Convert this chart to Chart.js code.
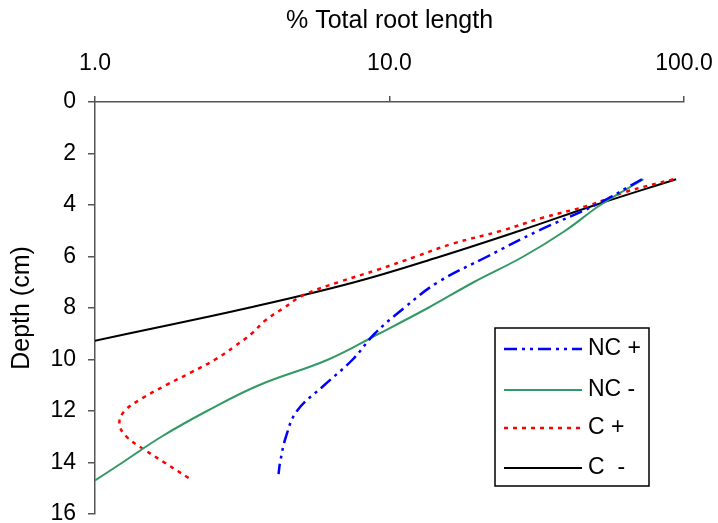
<!DOCTYPE html>
<html>
<head>
<meta charset="utf-8">
<script src="https://cdn.jsdelivr.net/npm/chart.js@4.4.1/dist/chart.umd.min.js"></script>
<style>
  body { margin: 0; background: #fff; }
  #wrap { width: 718px; height: 523px; position: relative; }
</style>
</head>
<body>
<div id="wrap"><canvas id="rootChart"></canvas></div>
<script>
// Series labels
const seriesLabels = ["NC +", "NC -", "C +", "C  -"];

// Depth (cm) and % total root length for each series
const depthNCplus = [3, 4, 5, 6, 7, 8, 9, 10, 11, 12, 13, 14, 14.45];
const rootNCplus = [72, 50, 32, 21.5, 14.6, 11.2, 8.9, 7.5, 6.0, 4.85, 4.45, 4.25, 4.2];

const depthNCminus = [3, 4, 5, 6, 7, 8, 9, 10, 11, 12, 13, 14, 14.7];
const rootNCminus = [72.8, 52, 39.5, 28.5, 19.3, 13.5, 9.2, 6.2, 3.6, 2.4, 1.68, 1.24, 1.0];

const depthCplus = [3, 3.5, 4, 4.5, 5, 5.5, 6, 6.5, 7, 7.5, 8, 8.5, 9, 9.5, 10, 10.5, 11, 11.5, 12, 12.5, 13, 13.5, 14, 14.6];
const rootCplus = [92, 63, 48, 33, 24, 16.4, 12.3, 9.2, 6.7, 5.1, 4.37, 3.77, 3.4, 2.97, 2.56, 2.12, 1.74, 1.45, 1.26, 1.21, 1.28, 1.47, 1.72, 2.08];

const depthCminus = [3, 4, 5, 6, 7, 8, 9, 10];
const rootCminus = [94, 50, 27.7, 14.9, 7.6, 3.3, 1.29, 0.5];

// Axis ticks
const xTicks = [1, 10, 100];
const yTicks = [0, 2, 4, 6, 8, 10, 12, 14, 16];

// Pair depth and value arrays into scatter points
function toPoints(depths, values) {
  return depths.map((d, i) => ({ x: values[i], y: d }));
}

Chart.defaults.font.family = "'Liberation Sans', Arial, sans-serif";
Chart.defaults.font.size = 23;
Chart.defaults.color = "#000";

// Legend drawn as a framed box inside the plot, like the original
const boxLegend = {
  id: "boxLegend",
  afterDatasetsDraw(chart) {
    const ctx = chart.ctx;
    const left = 495, top = 328, width = 154, height = 158;
    const rows = [349, 390, 428, 468];
    ctx.save();
    ctx.fillStyle = "#fff";
    ctx.fillRect(left, top, width, height);
    ctx.strokeStyle = "#000";
    ctx.lineWidth = 1.5;
    ctx.strokeRect(left, top, width, height);
    chart.data.datasets.forEach((ds, i) => {
      const y = rows[i];
      ctx.beginPath();
      ctx.setLineDash(ds.borderDash || []);
      ctx.strokeStyle = ds.borderColor;
      ctx.lineWidth = ds.borderWidth;
      ctx.moveTo(504, y);
      ctx.lineTo(582, y);
      ctx.stroke();
      ctx.setLineDash([]);
      ctx.fillStyle = "#000";
      ctx.font = "23px 'Liberation Sans', Arial, sans-serif";
      ctx.textAlign = "left";
      ctx.textBaseline = "middle";
      ctx.fillText(ds.label, 588, y);
    });
    ctx.restore();
  },
};

const ctx = document.getElementById("rootChart").getContext("2d");

const rootChart = new Chart(ctx, {
  type: "scatter",
  data: {
    datasets: [
      {
        label: seriesLabels[0],
        data: toPoints(depthNCplus, rootNCplus),
        borderColor: "#0000ff",
        borderWidth: 2.5,
        borderDash: [13, 5, 3, 5, 3, 5],
      },
      {
        label: seriesLabels[1],
        data: toPoints(depthNCminus, rootNCminus),
        borderColor: "#339966",
        borderWidth: 2,
      },
      {
        label: seriesLabels[2],
        data: toPoints(depthCplus, rootCplus),
        borderColor: "#ff0000",
        borderWidth: 2.5,
        borderDash: [4, 5],
      },
      {
        label: seriesLabels[3],
        data: toPoints(depthCminus, rootCminus),
        borderColor: "#000",
        borderWidth: 2,
      },
    ].map((ds) => ({ ...ds, showLine: true, pointRadius: 0, tension: 0.4, fill: false })),
  },
  options: {
    responsive: true,
    maintainAspectRatio: false,
    animation: false,
    layout: {
      padding: { left: 0, top: 0, right: 34, bottom: 9 },
    },
    plugins: {
      legend: { display: false },
      tooltip: { enabled: false },
    },
    scales: {
      x: {
        type: "logarithmic",
        position: "top",
        min: 1,
        max: 100,
        afterBuildTicks: (scale) => {
          scale.ticks = xTicks.map((v) => ({ value: v }));
        },
        afterFit: (scale) => {
          // fixed band height, no extra side padding for the end labels
          scale.height = 102;
          scale.paddingLeft = 0;
          scale.paddingRight = 0;
        },
        ticks: {
          padding: 19,
          maxRotation: 0,
          autoSkip: false,
          callback: (value) => Number(value).toFixed(1),
        },
        grid: {
          drawOnChartArea: false,
          drawTicks: true,
          tickLength: 6,
          color: "#555",
          lineWidth: 1.5,
        },
        border: { display: true, color: "#555", width: 1.5 },
        title: {
          display: true,
          text: "% Total root length",
          font: { size: 25 },
          padding: { top: 6, bottom: 0 },
        },
      },
      y: {
        type: "linear",
        reverse: true,
        min: 0,
        max: 16,
        afterBuildTicks: (scale) => {
          scale.ticks = yTicks.map((v) => ({ value: v }));
        },
        afterFit: (scale) => {
          scale.width = 95;
          scale.paddingTop = 0;
          scale.paddingBottom = 0;
        },
        ticks: {
          padding: 12,
        },
        grid: {
          drawOnChartArea: false,
          drawTicks: true,
          tickLength: 7,
          color: "#555",
          lineWidth: 1.5,
        },
        border: { display: true, color: "#555", width: 1.5 },
        title: {
          display: true,
          text: "Depth (cm)",
          font: { size: 25 },
          padding: { top: 7, bottom: 0 },
        },
      },
    },
  },
  plugins: [boxLegend],
});
</script>
</body>
</html>
